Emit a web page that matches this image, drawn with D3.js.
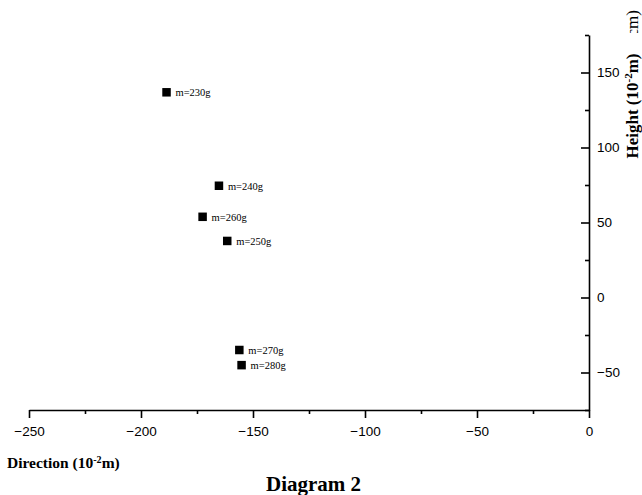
<!DOCTYPE html>
<html>
<head>
<meta charset="utf-8">
<script src="https://cdn.jsdelivr.net/npm/d3@7"></script>
<style>
  body { margin: 0; background: #fff; }
  svg { display: block; }
</style>
</head>
<body>
<svg id="chart" width="642" height="495"></svg>
<script>
// data
const masses = ['m=230g', 'm=240g', 'm=260g', 'm=250g', 'm=270g', 'm=280g'];
const direction = [-188.6, -165.2, -172.5, -161.5, -156.1, -155.1];
const height = [136.8, 74.5, 53.8, 37.7, -35.0, -45.1];
const xMajor = [-250, -200, -150, -100, -50, 0];
const xMinor = [-225, -175, -125, -75, -25];
const yMajor = [-50, 0, 50, 100, 150];
const yMinor = [-75, -25, 25, 75, 125, 175];

const svg = d3.select('#chart');
const serif = '"Liberation Serif", "Times New Roman", serif';
const sans = '"Liberation Sans", Arial, sans-serif';

const x = d3.scaleLinear().domain([-250, 0]).range([29, 589]);
const y = d3.scaleLinear().domain([-75, 175]).range([410, 35]);

// x axis
svg.append('g')
  .attr('transform', `translate(0,${y(-75)})`)
  .call(d3.axisBottom(x).tickValues(xMajor).tickSize(8).tickSizeOuter(0).tickPadding(8)
    .tickFormat(d3.format('d')));
svg.append('g')
  .attr('transform', `translate(0,${y(-75)})`)
  .call(d3.axisBottom(x).tickValues(xMinor).tickSize(4).tickSizeOuter(0).tickFormat(''))
  .select('.domain').remove();

// y axis: ticks point left, labels on the right
svg.append('g')
  .attr('transform', `translate(${x(0)},0)`)
  .call(d3.axisRight(y).tickValues(yMajor).tickSizeInner(-8).tickSizeOuter(0).tickPadding(8)
    .tickFormat(d3.format('d')));
svg.append('g')
  .attr('transform', `translate(${x(0)},0)`)
  .call(d3.axisRight(y).tickValues(yMinor).tickSizeInner(-4).tickSizeOuter(0).tickFormat(''))
  .select('.domain').remove();

svg.selectAll('.domain, .tick line').attr('stroke', '#000').attr('stroke-width', 1.6);
svg.selectAll('.tick text')
  .attr('font-family', sans)
  .attr('font-size', 13.5)
  .attr('fill', '#000');

// points
const pts = svg.append('g');
const sq = 8.5;
masses.forEach((m, i) => {
  const cx = x(direction[i]), cy = y(height[i]);
  pts.append('rect')
    .attr('x', cx - sq / 2).attr('y', cy - sq / 2)
    .attr('width', sq).attr('height', sq)
    .attr('fill', '#000');
  pts.append('text')
    .attr('x', cx + 9).attr('y', cy + 4)
    .attr('font-family', serif).attr('font-size', 10.5)
    .text(m);
});

// axis titles
function unitLabel(sel, word) {
  sel.append('tspan').text(word + ' (10');
  sel.append('tspan').attr('font-size', '0.65em').attr('dy', '-0.5em').text('-2');
  sel.append('tspan').attr('dy', '0.32em').text('m)');
}

const dirLabel = svg.append('text')
  .attr('x', 7).attr('y', 468)
  .attr('font-family', serif).attr('font-weight', 'bold').attr('font-size', 15.5);
unitLabel(dirLabel, 'Direction');

const hLabel = svg.append('text')
  .attr('transform', 'translate(638,106) rotate(-90)')
  .attr('text-anchor', 'middle')
  .attr('font-family', serif).attr('font-weight', 'bold').attr('font-size', 17);
unitLabel(hLabel, 'Height');

// clipped leftover of a second title at the top right
svg.append('clipPath').attr('id', 'topclip')
  .append('rect').attr('x', 620).attr('y', 0).attr('width', 22).attr('height', 33);
svg.append('g')
  .attr('clip-path', 'url(#topclip)')
  .append('text')
  .attr('transform', 'translate(638,10) rotate(-90)')
  .attr('text-anchor', 'end')
  .attr('font-family', serif).attr('font-size', 17)
  .text('(10cm)');

svg.append('text')
  .attr('x', 266).attr('y', 490.5)
  .attr('font-family', serif).attr('font-weight', 'bold').attr('font-size', 21)
  .text('Diagram 2');
</script>
</body>
</html>
